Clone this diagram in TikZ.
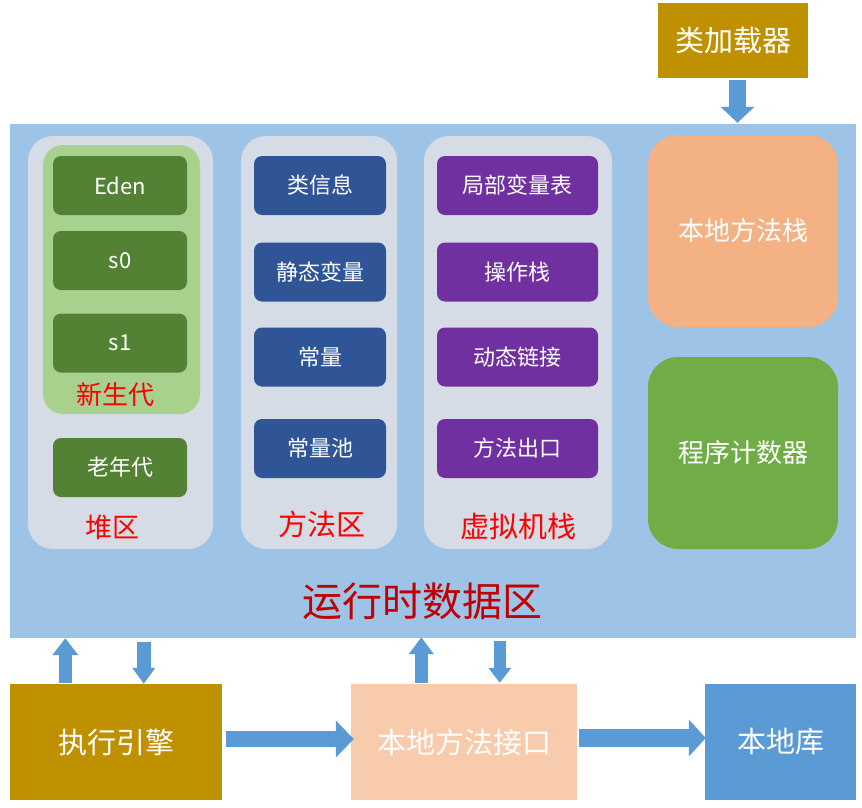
\documentclass[tikz,border=0pt]{standalone}
\usepackage{fontspec}
\setmainfont{Noto Sans CJK SC}
\usetikzlibrary{arrows.meta,calc}

\definecolor{loadergold}{HTML}{BF9000}
\definecolor{runtimeblue}{HTML}{9DC3E6}
\definecolor{panelgray}{HTML}{D6DCE5}
\definecolor{younggreen}{HTML}{A9D18E}
\definecolor{heapgreen}{HTML}{548235}
\definecolor{methodnavy}{HTML}{2F5597}
\definecolor{stackpurple}{HTML}{7030A0}
\definecolor{nativesalmon}{HTML}{F4B183}
\definecolor{pcgreen}{HTML}{70AD47}
\definecolor{ifpeach}{HTML}{F8CBAD}
\definecolor{libblue}{HTML}{5B9BD5}
\definecolor{titlered}{HTML}{C00000}

\tikzset{
  bigbox/.style={inner sep=0pt, text=white, font=\fontsize{29}{31}\selectfont},
  panel/.style={fill=panelgray, rounded corners=25pt, inner sep=0pt},
  item/.style={rounded corners=8pt, inner sep=0pt, text=white, minimum height=59pt,
    font=\fontsize{22}{24}\selectfont},
  redlabel/.style={text=red, inner sep=0pt, font=\fontsize{27}{29}\selectfont},
  blockarrow/.style={draw=libblue, line width=#1}
}

\begin{document}
\begin{tikzpicture}[x=1pt,y=-1pt]

  \useasboundingbox (0,0) rectangle (862,808);

  % class loader and runtime data area
  \node[bigbox, fill=loadergold, minimum width=150pt, minimum height=75pt] (loader) at (733,40.5) {类加载器};
  \node[fill=runtimeblue, minimum width=846pt, minimum height=514pt, inner sep=0pt] (runtime) at (433,381) {};
  \node[text=titlered, inner sep=0pt, font=\fontsize{40}{42}\selectfont] (runtimelabel) at (422,601) {运行时数据区};

  % heap
  \node[panel, minimum width=185pt, minimum height=413pt] (heap) at (120.5,342.5) {};
  \node[fill=younggreen, rounded corners=20pt, inner sep=0pt, minimum width=157pt, minimum height=269pt] (young) at (121.5,279.5) {};
  \node[item, fill=heapgreen, minimum width=134pt] (eden) at (120,185.5) {Eden};
  \node[item, fill=heapgreen, minimum width=134pt] (szero) at (120,260.5) {s0};
  \node[item, fill=heapgreen, minimum width=134pt] (sone) at (120,343) {s1};
  \node[redlabel, font=\fontsize{26}{28}\selectfont] (younglabel) at (115,395) {新生代};
  \node[item, fill=heapgreen, minimum width=134pt] (old) at (120,467.5) {老年代};
  \node[redlabel] (heaplabel) at (112,527) {堆区};

  % method area
  \node[panel, minimum width=156pt, minimum height=413pt] (method) at (319,342.5) {};
  \node[item, fill=methodnavy, minimum width=132pt] (classinfo) at (320,185.5) {类信息};
  \node[item, fill=methodnavy, minimum width=132pt] (static) at (320,272) {静态变量};
  \node[item, fill=methodnavy, minimum width=132pt] (const) at (320,357) {常量};
  \node[item, fill=methodnavy, minimum width=132pt] (pool) at (320,448.5) {常量池};
  \node[redlabel, font=\fontsize{29}{31}\selectfont] (methodlabel) at (322,524) {方法区};

  % vm stack
  \node[panel, minimum width=188pt, minimum height=413pt] (vmstack) at (518,342.5) {};
  \node[item, fill=stackpurple, minimum width=161pt] (locals) at (517.5,185.5) {局部变量表};
  \node[item, fill=stackpurple, minimum width=161pt] (opstack) at (517.5,272) {操作栈};
  \node[item, fill=stackpurple, minimum width=161pt] (dynlink) at (517.5,357) {动态链接};
  \node[item, fill=stackpurple, minimum width=161pt] (exit) at (517.5,448.5) {方法出口};
  \node[redlabel, font=\fontsize{29}{31}\selectfont] (stacklabel) at (518,526) {虚拟机栈};

  % native stack and pc
  \node[fill=nativesalmon, rounded corners=30pt, inner sep=0pt, text=white, minimum width=190pt, minimum height=192pt,
    font=\fontsize{26}{28}\selectfont] (nativestack) at (743,231) {本地方法栈};
  \node[fill=pcgreen, rounded corners=30pt, inner sep=0pt, text=white, minimum width=190pt, minimum height=192pt,
    font=\fontsize{26}{28}\selectfont] (pc) at (743,453) {程序计数器};

  % bottom row
  \node[bigbox, fill=loadergold, minimum width=212pt, minimum height=116pt] (engine) at (116,742) {执行引擎};
  \node[bigbox, fill=ifpeach, minimum width=226pt, minimum height=116pt] (nif) at (464,742) {本地方法接口};
  \node[bigbox, fill=libblue, minimum width=151pt, minimum height=116pt] (nlib) at (780.5,742) {本地库};

  % arrows
  \draw[blockarrow=17pt, -{Triangle[length=16pt,width=33pt]}]
    ($(loader.south)+(4.5,2)$) -- ($(loader.south |- runtime.north)+(4.5,-1)$);
  \draw[blockarrow=13pt, -{Triangle[length=17pt,width=25pt]}]
    ($(engine.north west)+(55.5,-1)$) -- ($(engine.north west |- runtime.south)+(55.5,0)$);
  \draw[blockarrow=14pt, -{Triangle[length=16pt,width=22pt]}]
    ($(engine.north west |- runtime.south)+(134,4)$) -- ($(engine.north west)+(134,0)$);
  \draw[blockarrow=13pt, -{Triangle[length=17pt,width=24pt]}]
    ($(nif.north west)+(70.5,-1)$) -- ($(nif.north west |- runtime.south)+(70.5,-1)$);
  \draw[blockarrow=12pt, -{Triangle[length=15pt,width=22pt]}]
    ($(nif.north west |- runtime.south)+(149,3)$) -- ($(nif.north west)+(149,-1)$);
  \draw[blockarrow=16pt, -{Triangle[length=18pt,width=36pt]}]
    ($(engine.east)+(4,-3)$) -- ($(nif.west)+(3,-3)$);
  \draw[blockarrow=18pt, -{Triangle[length=17pt,width=36pt]}]
    ($(nif.east)+(2,-4)$) -- ($(nlib.west)+(1,-4)$);

\end{tikzpicture}
\end{document}
